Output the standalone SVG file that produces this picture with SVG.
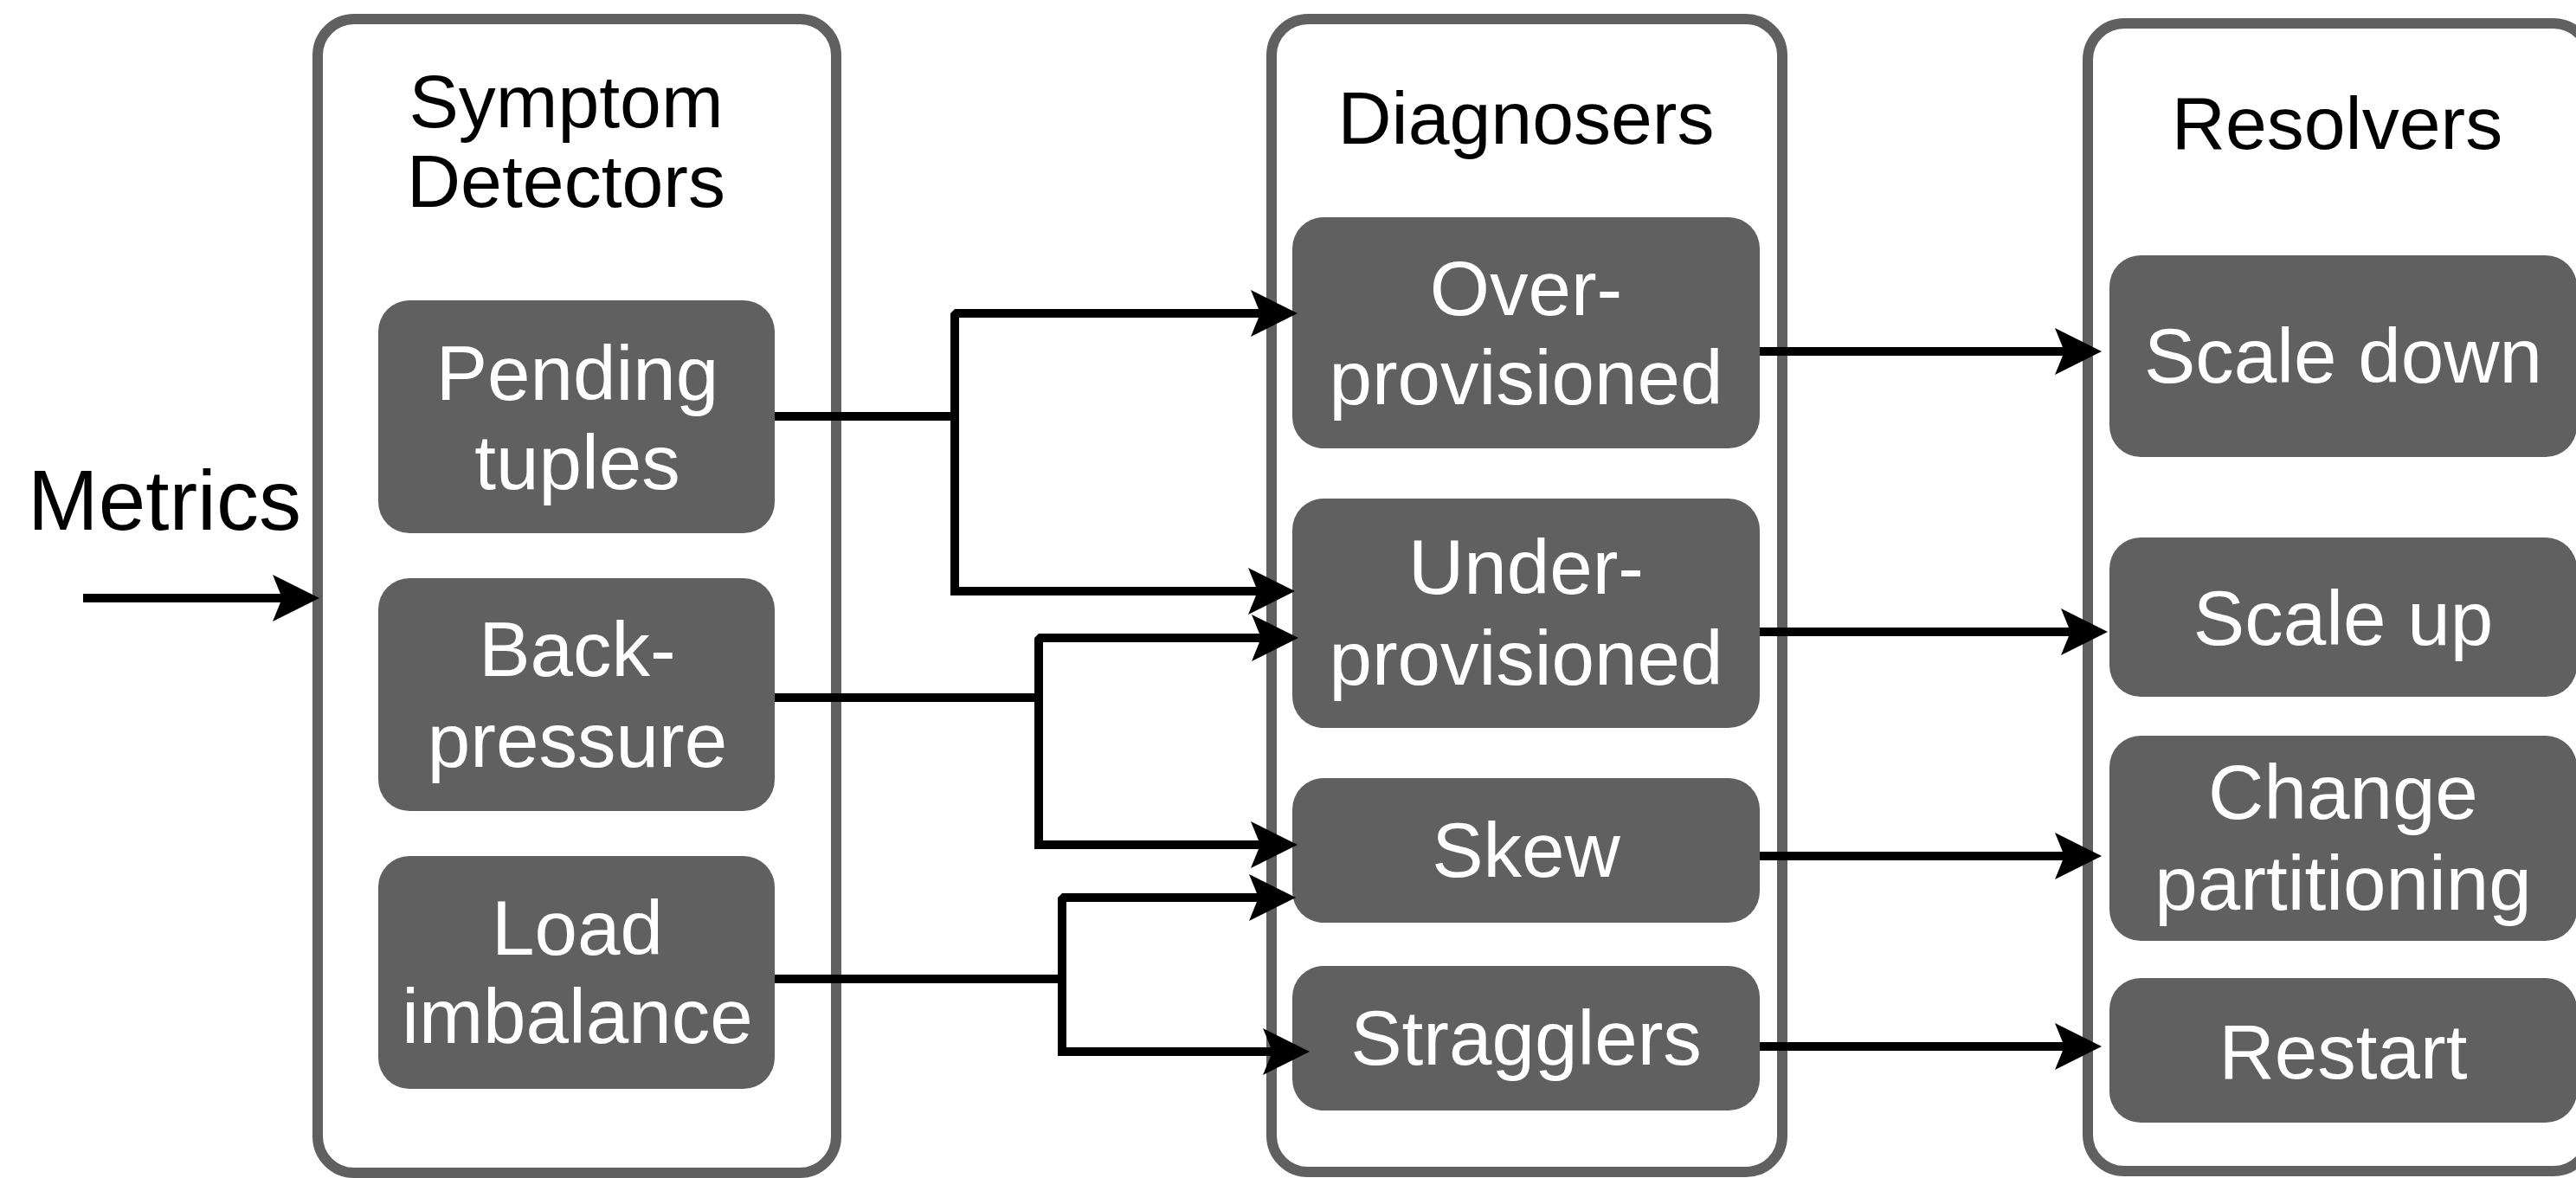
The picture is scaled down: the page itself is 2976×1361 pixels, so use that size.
<svg xmlns="http://www.w3.org/2000/svg" width="2976" height="1361" viewBox="0 0 2976 1361">
  <style>
    .panel { fill: #ffffff; stroke: #606060; stroke-width: 12; }
    .node { fill: #606060; }
    .title { font-family: "Liberation Sans", Arial, Helvetica, sans-serif; font-size: 86px; fill: #000000; text-anchor: middle; }
    .label { font-family: "Liberation Sans", Arial, Helvetica, sans-serif; font-size: 89px; fill: #ffffff; text-anchor: middle; }
    .metrics { font-family: "Liberation Sans", Arial, Helvetica, sans-serif; font-size: 98px; fill: #000000; text-anchor: middle; }
    .conn { fill: none; stroke: #000000; stroke-width: 10; stroke-linejoin: miter; marker-end: url(#arrow); }
    .bev { stroke-linejoin: bevel; }
  </style>
  <defs>
    <marker id="arrow" viewBox="0 0 54 54" markerUnits="userSpaceOnUse" markerWidth="54" markerHeight="54" refX="11" refY="27" orient="auto">
      <path d="M0,0 L54,27 L0,54 L11,27 Z" fill="#000000"/>
    </marker>
  </defs>

  <rect width="2976" height="1361" fill="#ffffff"/>

  <g id="panel-symptom-detectors">
    <rect class="panel" x="367" y="22" width="599" height="1333" rx="42" ry="42"/>
    <text class="title" x="654" y="147">Symptom</text>
    <text class="title" x="654" y="239">Detectors</text>
  </g>
  <g id="panel-diagnosers">
    <rect class="panel" x="1469" y="22" width="590" height="1332" rx="42" ry="42"/>
    <text class="title" x="1763" y="166">Diagnosers</text>
  </g>
  <g id="panel-resolvers">
    <rect class="panel" x="2412" y="27" width="580" height="1326" rx="42" ry="42"/>
    <text class="title" x="2700" y="172">Resolvers</text>
  </g>

  <g id="metrics-label">
    <text class="metrics" x="190" y="612">Metrics</text>
  </g>

  <g id="node-pending-tuples">
    <rect class="node" x="437" y="347" width="458" height="269" rx="36" ry="36"/>
    <text class="label" x="667" y="462">Pending</text>
    <text class="label" x="667" y="565">tuples</text>
  </g>
  <g id="node-back-pressure">
    <rect class="node" x="437" y="668" width="458" height="269" rx="36" ry="36"/>
    <text class="label" x="667" y="781">Back-</text>
    <text class="label" x="667" y="886">pressure</text>
  </g>
  <g id="node-load-imbalance">
    <rect class="node" x="437" y="989" width="458" height="269" rx="36" ry="36"/>
    <text class="label" x="667" y="1103">Load</text>
    <text class="label" x="667" y="1205">imbalance</text>
  </g>

  <g id="node-over-provisioned">
    <rect class="node" x="1493" y="251" width="540" height="267" rx="36" ry="36"/>
    <text class="label" x="1763" y="364">Over-</text>
    <text class="label" x="1763" y="467">provisioned</text>
  </g>
  <g id="node-under-provisioned">
    <rect class="node" x="1493" y="576" width="540" height="265" rx="36" ry="36"/>
    <text class="label" x="1763" y="686">Under-</text>
    <text class="label" x="1763" y="791">provisioned</text>
  </g>
  <g id="node-skew">
    <rect class="node" x="1493" y="899" width="540" height="167" rx="36" ry="36"/>
    <text class="label" x="1763" y="1013">Skew</text>
  </g>
  <g id="node-stragglers">
    <rect class="node" x="1493" y="1116" width="540" height="167" rx="36" ry="36"/>
    <text class="label" x="1763" y="1230">Stragglers</text>
  </g>

  <g id="node-scale-down">
    <rect class="node" x="2437" y="295" width="540" height="233" rx="36" ry="36"/>
    <text class="label" x="2707" y="442">Scale down</text>
  </g>
  <g id="node-scale-up">
    <rect class="node" x="2437" y="621" width="540" height="184" rx="36" ry="36"/>
    <text class="label" x="2707" y="745">Scale up</text>
  </g>
  <g id="node-change-partitioning">
    <rect class="node" x="2437" y="850" width="540" height="237" rx="36" ry="36"/>
    <text class="label" x="2707" y="946">Change</text>
    <text class="label" x="2707" y="1051">partitioning</text>
  </g>
  <g id="node-restart">
    <rect class="node" x="2437" y="1130" width="540" height="167" rx="36" ry="36"/>
    <text class="label" x="2707" y="1246">Restart</text>
  </g>

  <g id="connectors">
    <path class="conn" d="M96,691 L326,691"/>

    <path class="conn bev" d="M895,481 L1103,481 L1103,362 L1456,362"/>
    <path class="conn" d="M1103,481 L1103,683 L1453,683"/>

    <path class="conn bev" d="M895,806 L1200,806 L1200,737 L1457,737"/>
    <path class="conn" d="M1200,806 L1200,976 L1456,976"/>

    <path class="conn bev" d="M895,1131 L1227,1131 L1227,1037 L1454,1037"/>
    <path class="conn" d="M1227,1131 L1227,1215 L1470,1215"/>

    <path class="conn" d="M2033,406 L2385,406"/>
    <path class="conn" d="M2033,730 L2392,730"/>
    <path class="conn" d="M2033,989 L2385,989"/>
    <path class="conn" d="M2033,1209 L2385,1209"/>
  </g>
</svg>
